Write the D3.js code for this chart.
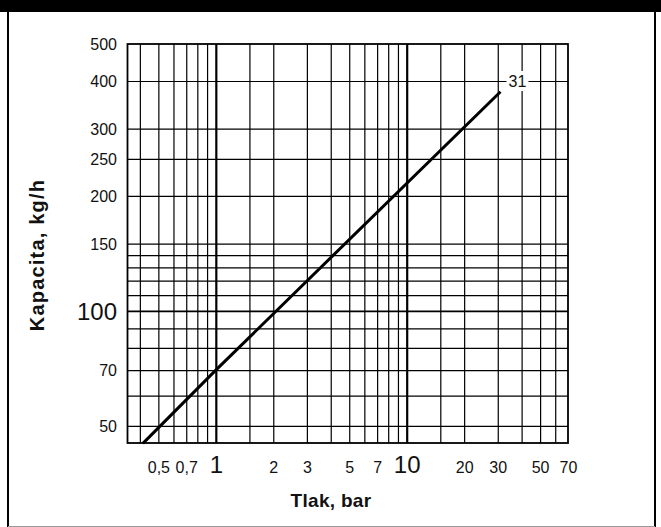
<!DOCTYPE html>
<html>
  <head>
    <script src='https://d3js.org/d3.v7.min.js'></script>
    <style type='text/css'>
      body, html {
        margin: 0;
        padding: 0;
        background: #fff;
      }
      svg {
        display: block;
      }
      .tick text {
        font-family: 'Liberation Sans Narrow', 'Arial Narrow', 'Liberation Sans', Arial, sans-serif;
        fill: #111;
      }
      .title {
        font-family: 'Liberation Sans', Arial, sans-serif;
        font-weight: bold;
        fill: #111;
      }
    </style>
  </head>
  <body>
    <svg width='661' height='527'></svg>
    <script type='text/javascript'>
      // curve (pressure in bar, capacity in kg/h)
      var pressure = [0.415, 1, 31]
      var capacity = [45, 70, 375]
      var curveLabel = '31'

      // grid + tick values
      var xGrid = [0.4, 0.5, 0.6, 0.7, 0.8, 0.9, 1, 1.5, 2, 3, 4, 5, 6, 7, 8, 9, 10, 15, 20, 30, 40, 50, 60]
      var yGrid = [50, 60, 70, 80, 90, 100, 110, 120, 130, 140, 150, 200, 250, 300, 400]
      var xTicks = [0.5, 0.7, 1, 2, 3, 5, 7, 10, 20, 30, 50, 70]
      var yTicks = [50, 70, 100, 150, 200, 250, 300, 400, 500]
      var xBig = [1, 10]
      var yBig = [100]

      var xTitle = 'Tlak, bar'
      var yTitle = 'Kapacita, kg/h'

      var svg = d3.select('svg')
      var W = 661, H = 527
      // plot box (not named top/left: window.top is read only)
      var pL = 127.5, pR = 568, pT = 44, pB = 443

      // outer frame like the catalogue page
      svg.append('rect').attr('x', 0).attr('y', 0).attr('width', W).attr('height', 12).attr('fill', '#000')
      svg.append('line').attr('x1', 8).attr('x2', 8).attr('y1', 12).attr('y2', H)
        .attr('stroke', '#000').attr('stroke-width', 2)
      svg.append('line').attr('x1', 655).attr('x2', 655).attr('y1', 12).attr('y2', H)
        .attr('stroke', '#000').attr('stroke-width', 2)
      svg.append('line').attr('x1', 8).attr('x2', 655).attr('y1', 526.5).attr('y2', 526.5)
        .attr('stroke', '#999').attr('stroke-width', 1)

      var x = d3.scaleLog().domain([0.3446, 70]).range([pL, pR])
      var y = d3.scaleLog().domain([45.1, 500]).range([pB, pT])

      var fmt = function(d) { return String(d).replace('.', ',') }

      // vertical grid
      var gx = svg.append('g')
        .attr('transform', 'translate(0,' + pB + ')')
        .call(d3.axisBottom(x).tickValues(xGrid).tickSize(-(pB - pT)).tickFormat(''))
      gx.select('.domain').remove()
      gx.selectAll('.tick line')
        .attr('stroke', '#000')
        .attr('stroke-width', function(d) { return xBig.indexOf(d) >= 0 ? 2.2 : 1.2 })

      // horizontal grid
      var gy = svg.append('g')
        .attr('transform', 'translate(' + pL + ',0)')
        .call(d3.axisLeft(y).tickValues(yGrid).tickSize(-(pR - pL)).tickFormat(''))
      gy.select('.domain').remove()
      gy.selectAll('.tick line')
        .attr('stroke', '#000')
        .attr('stroke-width', function(d) { return yBig.indexOf(d) >= 0 ? 1.8 : 1.2 })

      // plot frame
      svg.append('rect')
        .attr('x', pL).attr('y', pT)
        .attr('width', pR - pL).attr('height', pB - pT)
        .attr('fill', 'none').attr('stroke', '#000').attr('stroke-width', 1.8)

      // tick labels
      var ax = svg.append('g')
        .attr('transform', 'translate(0,' + 473 + ')')
        .call(d3.axisBottom(x).tickValues(xTicks).tickSize(0).tickPadding(0).tickFormat(fmt))
      ax.select('.domain').remove()
      ax.selectAll('.tick text')
        .attr('dy', 0)
        .attr('font-size', function(d) { return xBig.indexOf(d) >= 0 ? 24 : 16 })

      var ay = svg.append('g')
        .attr('transform', 'translate(' + 117 + ',0)')
        .call(d3.axisLeft(y).tickValues(yTicks).tickSize(0).tickPadding(0).tickFormat(fmt))
      ay.select('.domain').remove()
      ay.selectAll('.tick text')
        .attr('dy', '0.36em')
        .attr('font-size', function(d) { return yBig.indexOf(d) >= 0 ? 24 : 16 })

      // the capacity curve
      var pts = pressure.map(function(p, i) { return [p, capacity[i]] })
      var line = d3.line()
        .x(function(d) { return x(d[0]) })
        .y(function(d) { return y(d[1]) })
      svg.append('path')
        .datum(pts)
        .attr('d', line)
        .attr('fill', 'none')
        .attr('stroke', '#000')
        .attr('stroke-width', 3)

      // curve tag sitting on the 400 line
      var tag = svg.append('g')
        .attr('transform', 'translate(' + (x(pressure[pressure.length - 1]) + 17) + ',' + y(400) + ')')
      tag.append('rect').attr('x', -11).attr('y', -10).attr('width', 22).attr('height', 20).attr('fill', '#fff')
      tag.append('text')
        .attr('text-anchor', 'middle')
        .attr('dy', '0.36em')
        .attr('font-size', 16)
        .attr('font-family', "'Liberation Sans Narrow', 'Arial Narrow', 'Liberation Sans', Arial, sans-serif")
        .attr('fill', '#111')
        .text(curveLabel)

      // axis titles
      svg.append('text')
        .attr('class', 'title')
        .attr('x', 331).attr('y', 507)
        .attr('text-anchor', 'middle')
        .attr('font-size', 19)
        .attr('letter-spacing', 0.3)
        .text(xTitle)

      svg.append('text')
        .attr('class', 'title')
        .attr('transform', 'translate(44,255) rotate(-90)')
        .attr('text-anchor', 'middle')
        .attr('font-size', 20)
        .attr('letter-spacing', 1.2)
        .text(yTitle)
    </script>
  </body>
</html>
